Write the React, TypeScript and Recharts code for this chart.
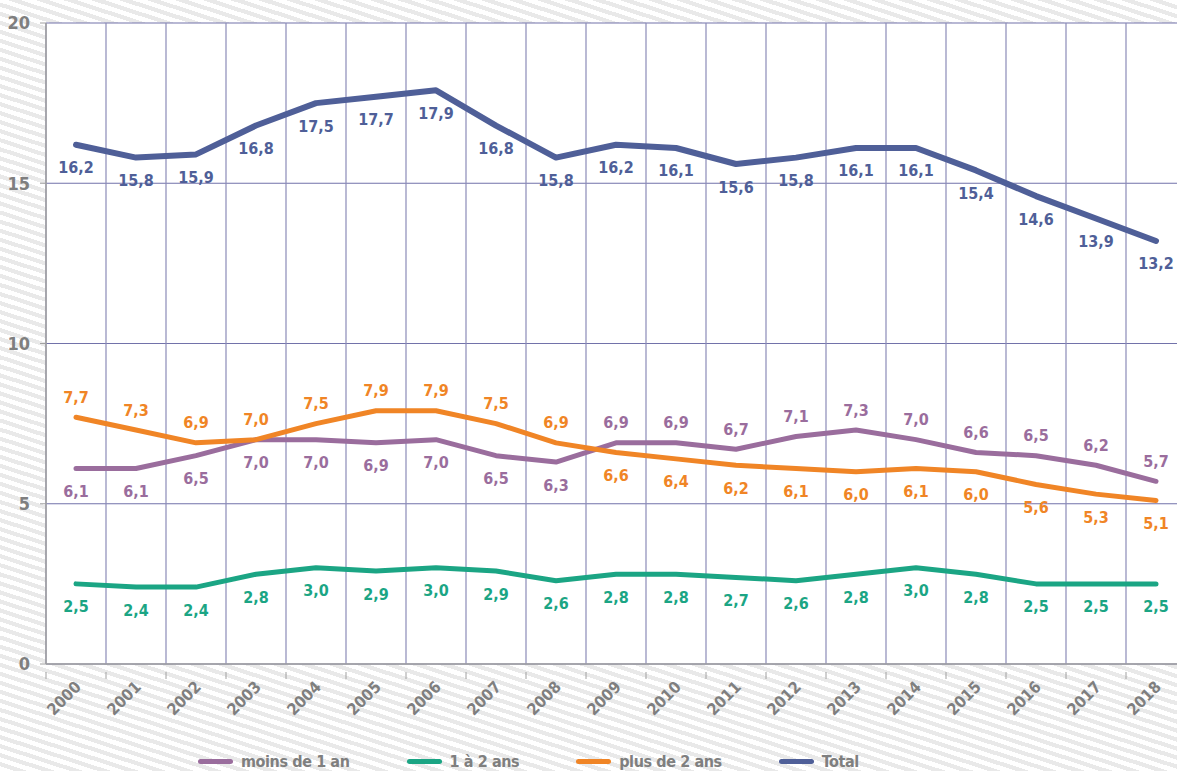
import React from "react";
import {
  LineChart,
  Line,
  XAxis,
  YAxis,
  CartesianGrid,
  LabelList,
} from "recharts";

const years = [
  "2000", "2001", "2002", "2003", "2004", "2005", "2006", "2007", "2008", "2009",
  "2010", "2011", "2012", "2013", "2014", "2015", "2016", "2017", "2018",
];
const moinsDe1An = [6.1, 6.1, 6.5, 7.0, 7.0, 6.9, 7.0, 6.5, 6.3, 6.9, 6.9, 6.7, 7.1, 7.3, 7.0, 6.6, 6.5, 6.2, 5.7];
const unADeuxAns = [2.5, 2.4, 2.4, 2.8, 3.0, 2.9, 3.0, 2.9, 2.6, 2.8, 2.8, 2.7, 2.6, 2.8, 3.0, 2.8, 2.5, 2.5, 2.5];
const plusDe2Ans = [7.7, 7.3, 6.9, 7.0, 7.5, 7.9, 7.9, 7.5, 6.9, 6.6, 6.4, 6.2, 6.1, 6.0, 6.1, 6.0, 5.6, 5.3, 5.1];
const total = [16.2, 15.8, 15.9, 16.8, 17.5, 17.7, 17.9, 16.8, 15.8, 16.2, 16.1, 15.6, 15.8, 16.1, 16.1, 15.4, 14.6, 13.9, 13.2];
const yTicks = [0, 5, 10, 15, 20];

const FONT = '"Liberation Sans Narrow", "DejaVu Sans Condensed", "Roboto", sans-serif';
const GRAY = "#7f7f7f";

// label above the line for these years, below otherwise
const SERIES = [
  { key: "moins", name: "moins de 1 an", color: "#9a6d9d", width: 5, above: (i: number) => i >= 9 },
  { key: "unDeux", name: "1 à 2 ans", color: "#1ba584", width: 5, above: () => false },
  { key: "plus", name: "plus de 2 ans", color: "#f08526", width: 5, above: (i: number) => i < 9 },
  { key: "total", name: "Total", color: "#4f5f98", width: 6, above: () => false },
];

const chartData = years.map((year, i) => ({
  year,
  moins: moinsDe1An[i],
  unDeux: unADeuxAns[i],
  plus: plusDe2Ans[i],
  total: total[i],
}));

const fmt = (v: number) => v.toFixed(1).replace(".", ",");

function makeLabel(color: string, above: (i: number) => boolean) {
  return (props: any) => {
    const { x, y, value, index } = props;
    const up = above(index);
    return (
      <text
        x={x}
        y={up ? y - 20 : y + 23}
        fill={color}
        fontSize={16}
        fontWeight="bold"
        fontFamily={FONT}
        textAnchor="middle"
        dominantBaseline="central"
      >
        {fmt(value)}
      </text>
    );
  };
}

const XTick = (props: any) => {
  const { x, y, payload, index, width, visibleTicksCount } = props;
  const half = payload.offset || width / visibleTicksCount / 2;
  return (
    <g>
      <line x1={x - half} x2={x - half} y1={y} y2={y + 7} stroke="#a0a0a0" />
      {index === visibleTicksCount - 1 && (
        <line x1={x + half} x2={x + half} y1={y} y2={y + 7} stroke="#a0a0a0" />
      )}
      <text
        x={x + 6}
        y={y + 16}
        transform={`rotate(-45, ${x + 6}, ${y + 16})`}
        textAnchor="end"
        fill={GRAY}
        fontSize={16}
        fontWeight="bold"
        fontFamily={FONT}
      >
        {payload.value}
      </text>
    </g>
  );
};

const gridBounds = ({ offset }: any) =>
  Array.from({ length: years.length + 1 }, (_, i) => offset.left + (i * offset.width) / years.length);

export default function App() {
  return (
    <div
      style={{
        position: "absolute",
        left: 0,
        top: 0,
        width: 1177,
        height: 771,
        overflow: "hidden",
        background:
          "repeating-linear-gradient(18deg, #ffffff 0px, #ffffff 4.5px, #e9e9e9 4.5px, #e9e9e9 8.6px)",
        fontFamily: FONT,
      }}
    >
      <LineChart
        width={1200}
        height={771}
        data={chartData}
        margin={{ top: 23, right: 14, left: 0, bottom: 37 }}
      >
        <CartesianGrid fill="#ffffff" vertical={false} stroke="#7272aa" strokeWidth={1.2} />
        <CartesianGrid
          horizontal={false}
          stroke="#8b8bb8"
          strokeWidth={1.2}
          verticalCoordinatesGenerator={gridBounds}
        />
        <XAxis
          dataKey="year"
          scale="band"
          interval={0}
          height={70}
          tickLine={false}
          axisLine={{ stroke: "#a0a0a0", strokeWidth: 1.5 }}
          tick={<XTick />}
        />
        <YAxis
          width={46}
          domain={[0, 20]}
          ticks={yTicks}
          tickSize={6}
          tickMargin={10}
          axisLine={{ stroke: "#a0a0a0", strokeWidth: 1.5 }}
          tickLine={{ stroke: "#a0a0a0" }}
          tick={{ fill: GRAY, fontSize: 18, fontWeight: "bold", fontFamily: FONT }}
        />
        {SERIES.map((s) => (
          <Line
            key={s.key}
            type="linear"
            dataKey={s.key}
            name={s.name}
            stroke={s.color}
            strokeWidth={s.width}
            strokeLinecap="round"
            strokeLinejoin="round"
            dot={false}
            activeDot={false}
            isAnimationActive={false}
          >
            <LabelList dataKey={s.key} content={makeLabel(s.color, s.above)} />
          </Line>
        ))}
      </LineChart>
      <div
        style={{
          position: "absolute",
          left: 198,
          top: 753,
          display: "flex",
          gap: 57,
          alignItems: "center",
        }}
      >
        {SERIES.map((s) => (
          <div key={s.key} style={{ display: "flex", alignItems: "center", gap: 8 }}>
            <div style={{ width: 35, height: 5, borderRadius: 3, background: s.color }} />
            <span
              style={{
                color: GRAY,
                fontSize: 16,
                fontWeight: "bold",
                lineHeight: "17px",
                letterSpacing: -0.4,
              }}
            >
              {s.name}
            </span>
          </div>
        ))}
      </div>
    </div>
  );
}
